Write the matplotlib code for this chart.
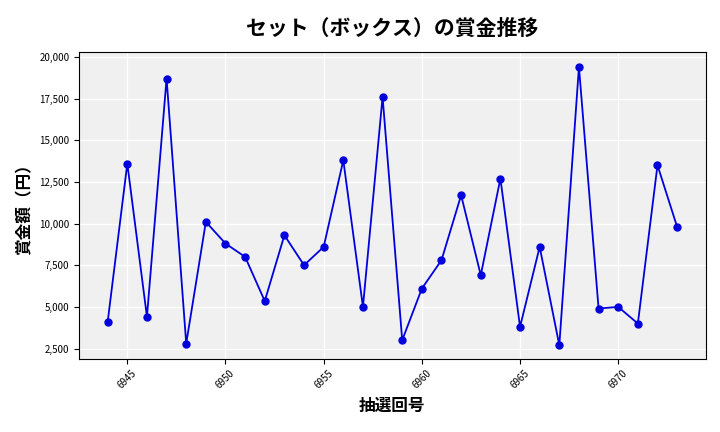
import matplotlib
matplotlib.use("Agg")
import matplotlib.pyplot as plt
from matplotlib.ticker import FuncFormatter, MultipleLocator

plt.rcParams['font.family'] = ['Noto Sans CJK JP', 'DejaVu Sans']

draws = list(range(6944, 6974))
prizes = [4100, 13600, 4400, 18700, 2800, 10100, 8800, 8000, 5350, 9300,
          7500, 8600, 13800, 5000, 17600, 3000, 6100, 7800, 11700, 6900,
          12700, 3800, 8600, 2700, 19400, 4900, 5000, 4000, 13500, 9800]

fig, ax = plt.subplots(figsize=(7.2, 4.32), dpi=100)
ax.set_facecolor('#f0f0f0')
ax.grid(True, color='white', linewidth=1)
ax.set_axisbelow(True)
ax.plot(draws, prizes, color='#0000dd', marker='o', markersize=5, linewidth=1.3)
ax.set_title('セット（ボックス）の賞金推移', fontsize=15, fontweight='bold', pad=12)
ax.set_xlabel('抽選回号', fontsize=12, fontweight='bold')
ax.set_ylabel('賞金額（円）', fontsize=12, fontweight='bold')
ax.xaxis.set_major_locator(MultipleLocator(5))
ax.yaxis.set_major_locator(MultipleLocator(2500))
ax.yaxis.set_major_formatter(FuncFormatter(lambda v, p: f'{int(v):,}'))
ax.set_ylim(1900, 20300)
ax.tick_params(axis='x', labelrotation=45, labelsize=7)
ax.tick_params(axis='y', labelsize=7)
fig.subplots_adjust(left=0.11, right=0.98, top=0.88, bottom=0.17)
fig.savefig('out.png')
